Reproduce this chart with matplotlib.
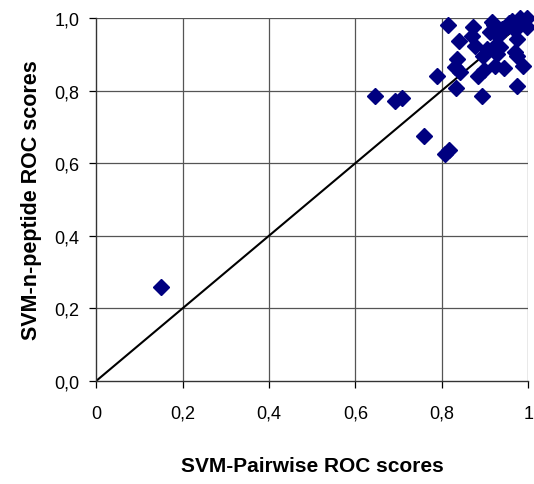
import matplotlib.pyplot as plt
import numpy as np

plt.rcParams['font.family'] = ['Liberation Sans', 'DejaVu Sans']

# ROC scores per family: x = SVM-Pairwise, y = SVM-n-peptide
pairwise = [0.150, 0.645, 0.692, 0.708, 0.758, 0.790, 0.808, 0.817,
            0.815, 0.839, 0.833, 0.836, 0.831, 0.843, 0.873, 0.870,
            0.877, 0.885, 0.893, 0.897, 0.896, 0.904, 0.912, 0.916,
            0.924, 0.924, 0.927, 0.935, 0.939, 0.943, 0.950, 0.962,
            0.970, 0.970, 0.974, 0.974, 0.974, 0.981, 0.989, 0.989,
            0.997, 0.997, 0.955, 0.930, 0.920]
npeptide = [0.260, 0.785, 0.770, 0.780, 0.676, 0.841, 0.625, 0.637,
            0.980, 0.938, 0.806, 0.887, 0.866, 0.852, 0.974, 0.951,
            0.922, 0.841, 0.786, 0.857, 0.896, 0.915, 0.961, 0.988,
            0.869, 0.924, 0.901, 0.919, 0.970, 0.861, 0.975, 0.992,
            0.966, 0.905, 0.896, 0.942, 0.813, 1.000, 0.869, 0.990,
            1.000, 0.974, 0.985, 0.950, 0.980]

xticks = [0, 0.2, 0.4, 0.6, 0.8, 1.0]
xticklabels = ['0', '0,2', '0,4', '0,6', '0,8', '1']
yticks = [0, 0.2, 0.4, 0.6, 0.8, 1.0]
yticklabels = ['0,0', '0,2', '0,4', '0,6', '0,8', '1,0']

fig = plt.figure(figsize=(5.34, 4.85), dpi=100)
ax = fig.add_axes([0.180, 0.2124, 0.809, 0.7484])

grid_col = '#555555'
for v in xticks[1:]:
    ax.axvline(v, color=grid_col, lw=0.9, zorder=1)
for v in yticks[1:]:
    ax.axhline(v, color=grid_col, lw=0.9, zorder=1)

ax.plot([0, 1], [0, 1], color='black', lw=1.5, zorder=2)
ax.plot(pairwise, npeptide, linestyle='none', marker='D', ms=8.5,
        color='#000080', mec='#000080', zorder=3, clip_on=False)

ax.set_xlim(0, 1)
ax.set_ylim(0, 1)
ax.set_xticks(xticks)
ax.set_xticklabels(xticklabels)
ax.set_yticks(yticks)
ax.set_yticklabels(yticklabels)
ax.tick_params(direction='out', length=5, width=0.9, labelsize=13, colors='black')
ax.tick_params(axis='x', pad=12)
ax.tick_params(axis='y', pad=7)

for s in ['top', 'right']:
    ax.spines[s].set_visible(False)
for s in ['left', 'bottom']:
    ax.spines[s].set_color('#333333')
    ax.spines[s].set_linewidth(1.0)

ax.set_xlabel('SVM-Pairwise ROC scores', fontsize=15, fontweight='bold', labelpad=25)
ax.set_ylabel('SVM-n-peptide ROC scores', fontsize=15.5, fontweight='bold', labelpad=9)

fig.savefig('out.png', dpi=100)
